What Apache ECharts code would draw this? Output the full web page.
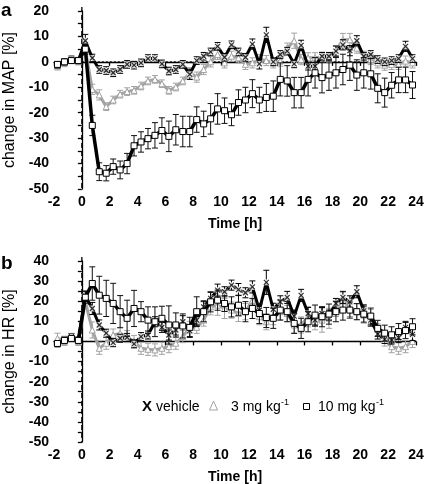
<!DOCTYPE html>
<html><head><meta charset="utf-8">
<script src="https://cdn.jsdelivr.net/npm/echarts@6/dist/echarts.min.js"></script>
<style>html,body{margin:0;padding:0;background:#fff}#c{width:432px;height:484px}</style>
</head><body><div id="c"></div>
<script>
// Time points [h]
const times = [-1.75,-1.25,-0.75,-0.25,
  0.25,0.75,1.25,1.75,2.25,2.75,3.25,3.75,4.25,4.75,
  5.25,5.75,6.25,6.75,7.25,7.75,8.25,8.75,9.25,9.75,
  10.25,10.75,11.25,11.75,12.25,12.75,13.25,13.75,14.25,14.75,
  15.25,15.75,16.25,16.75,17.25,17.75,18.25,18.75,19.25,19.75,
  20.25,20.75,21.25,21.75,22.25,22.75,23.25,23.75];
const xTicks = [-2,0,2,4,6,8,10,12,14,16,18,20,22,24];

// Panel a: change in MAP [%]
const mapVehicle = [-1.3,0,1,0.5,
  8.3,1.5,-3,-3.4,-4.3,-3,-1,-1.3,-0.4,1.3,
  1.3,-0.8,-3.6,-3,-1,-4.9,0.5,2.2,3.9,6.1,
  1.8,6.7,3.9,1.8,7,-0.8,10.6,0,2.9,4.2,
  -0.8,6.5,-1.7,-1.7,2.2,2.2,4.2,6.7,4.4,8.3,
  2.2,2.9,0.9,0,0.5,1.3,6.1,1.3];
const mapVehicleErr = [1.2,1.2,1.2,1.2,
  2.5,1.5,1.5,1.5,1.5,1.5,1.5,1.5,1.5,1.5,
  1.5,1.5,1.5,1.5,1.5,2,1.5,1.5,1.5,1.5,
  1.5,1.5,1.5,1.5,2,2,3,1.5,1.5,1.5,
  1.5,2,1.5,1.5,1.5,1.5,2,2,2,2,
  1.5,1.5,1.5,1.5,1.5,1.5,2,1.5];
const map3mg = [-1.7,-0.4,0.9,0.3,
  5,-10.8,-13,-17.6,-15,-12.7,-11.7,-11.2,-9.5,-7.5,
  -6.9,-8.6,-11.2,-9.9,-7.5,-4.3,-6,-3,0,2.9,
  -0.4,2.2,1.6,-1,-0.4,0.9,0.5,-0.4,0.3,5.4,
  8.3,0.9,1.6,1.6,1.8,1.6,4.4,8.7,8.7,5.4,
  2.2,0.9,-0.4,-1.3,-1,-1,0.3,-0.4];
const map3mgErr = [1.5,1.5,1.5,1.5,
  1.5,2,2,1.5,1.5,1.5,1.5,1.5,1.5,1.5,
  1.5,1.5,1.5,1.5,1.5,2,2,2,2,2,
  2,2,2,2,2,2,2,2,2,2,
  3,2,2,2,2,2,2,2.5,2.5,2,
  2,2,2,2,2,2,2,2];
const map10mg = [-1,0,0.5,0.5,
  5,-25,-43.2,-43.8,-41.2,-42.5,-40,-33,-31.5,-30.2,
  -28.9,-27,-29.3,-26.7,-27.4,-27.4,-22.7,-24.4,-22.4,-18.5,
  -19.2,-20.8,-16,-15,-12.5,-15,-14,-13.5,-6.9,-7.5,
  -12.1,-12.1,-6.9,-4.3,-6.2,-5.2,-4.3,-3,-1.3,-5.2,
  -4.3,-4.7,-10.4,-12.1,-9.2,-7.1,-7.1,-9.1];
const map10mgErr = [1,1,1,1,
  2,4,3.5,3,3,3.5,4,4,4,4,
  5,5,6,6,6,6,5,5,6,6,
  5,4.3,5,5,5.5,5,5.5,6,6.5,6,
  6,6,6.5,6,6,6,6,6,6,6,
  6,6,5.7,5.7,5,5,5,5.3];

// Panel b: change in HR [%]
const hrVehicle = [-1.2,1,2.4,0.7,
  22.5,16.4,8.2,4.1,-0.6,1.6,2,-1.2,2.4,3.2,
  9.8,7,3.2,5.7,9.8,5.4,10.6,17.2,21.4,25.5,
  24.7,28,25.8,24.2,27.1,15.6,29.4,16,19.7,21.9,
  12.6,22.9,13.9,10.6,13.9,13.1,18.9,21.9,19.7,24.7,
  15.2,10.6,3.7,1,0.7,1.9,7,3.5];
const hrVehicleErr = [1.5,1.5,1.5,1.5,
  2.5,3,2.5,2,2,2,2,2,2,2,
  2.5,2.5,2.5,2.5,3,3,2.5,3,3,3,
  2.5,2.5,3,2.5,3,3,6,3,3,3,
  3,3,3,3,3,2.5,2.5,3,3,3,
  3,3,2.5,2,2,2.5,3,3];
const hr3mg = [1.6,0,2,0,
  19.7,5.7,-3.4,-0.9,3.2,4,2.4,0,-3.4,-3.9,
  -4.2,-3.4,-2.6,-0.9,2.4,7,7,10.6,17.2,18,
  16.4,15.6,13.9,14.8,20.5,12.3,9.8,12.3,14.8,13.9,
  8.2,8.2,12.3,9.8,10.6,11.5,16.4,20.5,16.4,14.8,
  13.1,11.9,5.7,0.7,-2.6,-3.4,-2.6,0];
const hr3mgErr = [2.5,2,2,2,
  3,4,3,3,3,3,3,3,3,3,
  3,3,3,3,3,3,3,3,4,5,
  5,4,4,4,4,4,4,4,4,4,
  4,4,5,4,6,5,4,4,4,4,
  4,4,3,3,3,3,3,3];
const hr10mg = [-1,0.5,1.5,0.5,
  22,28.8,23,21.4,18.9,14.8,11.5,16.4,14.8,10.6,
  9.8,11.5,8.2,8.2,7.7,7,14.8,14.8,19.7,20.5,
  18.9,17.2,18,14.8,16.4,13.9,11.9,11.5,15.6,14.8,
  9,6.5,9.8,13.1,12.3,13.6,14.8,15.6,15.6,14.8,
  13.6,12.6,6.5,4.1,3.3,4.9,5.4,7.3];
const hr10mgErr = [1,1,1,1,
  3,8.3,9.4,9,10,8,9,9,5,6.6,
  7.4,6,9.5,6,6,5,7.4,5,5,5,
  4,5,5,5,5,5,5,5,5,5,
  5,5,5,5,5,5,5,5,4,4,
  4,4,4,4,4,4,4,4];

const yTicksA = [-50,-40,-30,-20,-10,0,10,20];
const yTicksB = [-50,-40,-30,-20,-10,0,10,20,30,40];

const GRAY = '#a3a3a3';
const FONT = 'Liberation Sans, Arial, sans-serif';

function pts(vals){ return times.map((t,i)=>[t, vals[i]]); }

function errSeries(gi, vals, errs, color, z){
  return {
    type:'custom', xAxisIndex:gi, yAxisIndex:gi, z:z, silent:true,
    data: times.map((t,i)=>[t, vals[i]-errs[i], vals[i]+errs[i]]),
    encode:{x:0, y:[1,2]},
    renderItem:function(params, api){
      const x = api.value(0);
      const lo = api.coord([x, api.value(1)]);
      const hi = api.coord([x, api.value(2)]);
      const w = 3;
      const st = {stroke:color, lineWidth:1, fill:null};
      return {type:'group', children:[
        {type:'line', shape:{x1:hi[0],y1:hi[1],x2:lo[0],y2:lo[1]}, style:st},
        {type:'line', shape:{x1:hi[0]-w,y1:hi[1],x2:hi[0]+w,y2:hi[1]}, style:st},
        {type:'line', shape:{x1:lo[0]-w,y1:lo[1],x2:lo[0]+w,y2:lo[1]}, style:st}
      ]};
    }
  };
}

function panelSeries(gi, veh, vehErr, low, lowErr, high, highErr){
  return [
    // zero reference (dotted)
    {type:'line', xAxisIndex:gi, yAxisIndex:gi, data:[[0,0],[24,0]], z:1, silent:true,
      showSymbol:false, lineStyle:{color:'#000', type:[2,2], width:1}},
    // 3 mg
    errSeries(gi, low, lowErr, GRAY, 2),
    {type:'line', xAxisIndex:gi, yAxisIndex:gi, data:pts(low), z:3, silent:true,
      lineStyle:{color:GRAY, width:3}, symbol:'triangle', symbolSize:6,
      itemStyle:{color:'#fff', borderColor:GRAY, borderWidth:1}},
    // vehicle
    errSeries(gi, veh, vehErr, '#000', 4),
    {type:'line', xAxisIndex:gi, yAxisIndex:gi, data:pts(veh), z:5, silent:true,
      lineStyle:{color:'#000', width:3}, showSymbol:false},
    {type:'scatter', xAxisIndex:gi, yAxisIndex:gi, data:pts(veh), z:6, silent:true,
      symbol:'rect', symbolSize:6, itemStyle:{color:'#fff'}},
    {type:'scatter', xAxisIndex:gi, yAxisIndex:gi, data:pts(veh), z:7, silent:true,
      symbol:'path://M0,0L10,10M10,0L0,10', symbolSize:5,
      itemStyle:{color:'#000', borderColor:'#000', borderWidth:1.2}},
    // 10 mg
    errSeries(gi, high, highErr, '#111', 8),
    {type:'line', xAxisIndex:gi, yAxisIndex:gi, data:pts(high), z:9, silent:true,
      lineStyle:{color:'#000', width:3.5}, symbol:'rect', symbolSize:6,
      itemStyle:{color:'#fff', borderColor:'#000', borderWidth:1}}
  ];
}

function xAxis(gi){
  return {type:'value', gridIndex:gi, min:-2, max:24, interval:2,
    name:'Time [h]', nameLocation:'middle', nameGap:28,
    nameTextStyle:{fontFamily:FONT, fontWeight:'bold', fontSize:14, color:'#000'},
    axisLine:{lineStyle:{color:'#000', width:1.3}},
    axisTick:{show:true, length:4, lineStyle:{color:'#000', width:1.3}},
    axisLabel:{fontFamily:FONT, fontWeight:'bold', fontSize:14, color:'#000', margin:6,
      formatter:function(v){ return xTicks.indexOf(v)>=0 ? String(v) : ''; }},
    splitLine:{show:false}};
}
function yAxis(gi, min, max, name, ticks){
  return {type:'value', gridIndex:gi, min:min, max:max, interval:10,
    name:name, nameLocation:'middle', nameGap:31, nameRotate:90,
    nameTextStyle:{fontFamily:FONT, fontSize:16, color:'#000'},
    axisLine:{show:true, lineStyle:{color:'#000', width:1.3}},
    axisTick:{show:true, length:4, lineStyle:{color:'#000', width:1.3}},
    minorTick:{show:true, splitNumber:2, length:4, lineStyle:{color:'#000', width:1.3}},
    axisLabel:{fontFamily:FONT, fontWeight:'bold', fontSize:14, color:'#000', margin:5,
      formatter:function(v){ return ticks.indexOf(v)>=0 ? String(v) : ''; }},
    splitLine:{show:false}};
}

const series = [].concat(
  panelSeries(0, mapVehicle, mapVehicleErr, map3mg, map3mgErr, map10mg, map10mgErr),
  panelSeries(1, hrVehicle, hrVehicleErr, hr3mg, hr3mgErr, hr10mg, hr10mgErr)
);

const legendGraphics = [
  {type:'text', left:1, top:1, style:{text:'a', font:'bold 19px '+FONT, fill:'#000'}},
  {type:'text', left:1, top:254, style:{text:'b', font:'bold 19px '+FONT, fill:'#000'}},
  {type:'text', left:142, top:399, style:{text:'X', font:'bold 15px '+FONT, fill:'#000'}},
  {type:'text', left:156, top:400, style:{text:'vehicle', font:'14px '+FONT, fill:'#000'}},
  {type:'polygon', shape:{points:[[213.5,401],[209.5,410],[217.5,410]]}, style:{fill:'#fff', stroke:GRAY, lineWidth:1}},
  {type:'text', left:231, top:400, style:{text:'3 mg kg', font:'14px '+FONT, fill:'#000'}},
  {type:'text', left:281, top:398, style:{text:'-1', font:'9px '+FONT, fill:'#000'}},
  {type:'rect', shape:{x:303.5,y:403.5,width:6,height:6}, style:{fill:'#fff', stroke:'#000', lineWidth:1}},
  {type:'text', left:318, top:400, style:{text:'10 mg kg', font:'14px '+FONT, fill:'#000'}},
  {type:'text', left:376, top:398, style:{text:'-1', font:'9px '+FONT, fill:'#000'}}
];

const chart = echarts.init(document.getElementById('c'), null, {renderer:'canvas'});
chart.setOption({
  animation:false,
  backgroundColor:'#fff',
  grid:[
    {left:54, top:11, width:362, height:178, containLabel:false, outerBoundsMode:'none'},
    {left:54, top:261, width:362, height:181, containLabel:false, outerBoundsMode:'none'}
  ],
  xAxis:[xAxis(0), xAxis(1)],
  yAxis:[yAxis(0,-50,20,'change in MAP [%]', yTicksA), yAxis(1,-50,40,'change in HR [%]', yTicksB)],
  series:series,
  graphic:legendGraphics
});

// dashed vertical line at dosing time (t = 0), positioned via the axes
const vA1 = chart.convertToPixel({gridIndex:0}, [0, 20]);
const vA2 = chart.convertToPixel({gridIndex:0}, [0, -50]);
const vB1 = chart.convertToPixel({gridIndex:1}, [0, 40]);
const vB2 = chart.convertToPixel({gridIndex:1}, [0, -50]);
chart.setOption({graphic: legendGraphics.concat([
  {type:'line', z:1, shape:{x1:vA1[0], y1:vA1[1]-4, x2:vA2[0], y2:vA2[1]},
    style:{stroke:'#000', lineWidth:1.3, lineDash:[5,3]}},
  {type:'line', z:1, shape:{x1:vB1[0], y1:vB1[1]-4, x2:vB2[0], y2:vB2[1]},
    style:{stroke:'#000', lineWidth:1.3, lineDash:[5,3]}}
])});
</script>
</body></html>
